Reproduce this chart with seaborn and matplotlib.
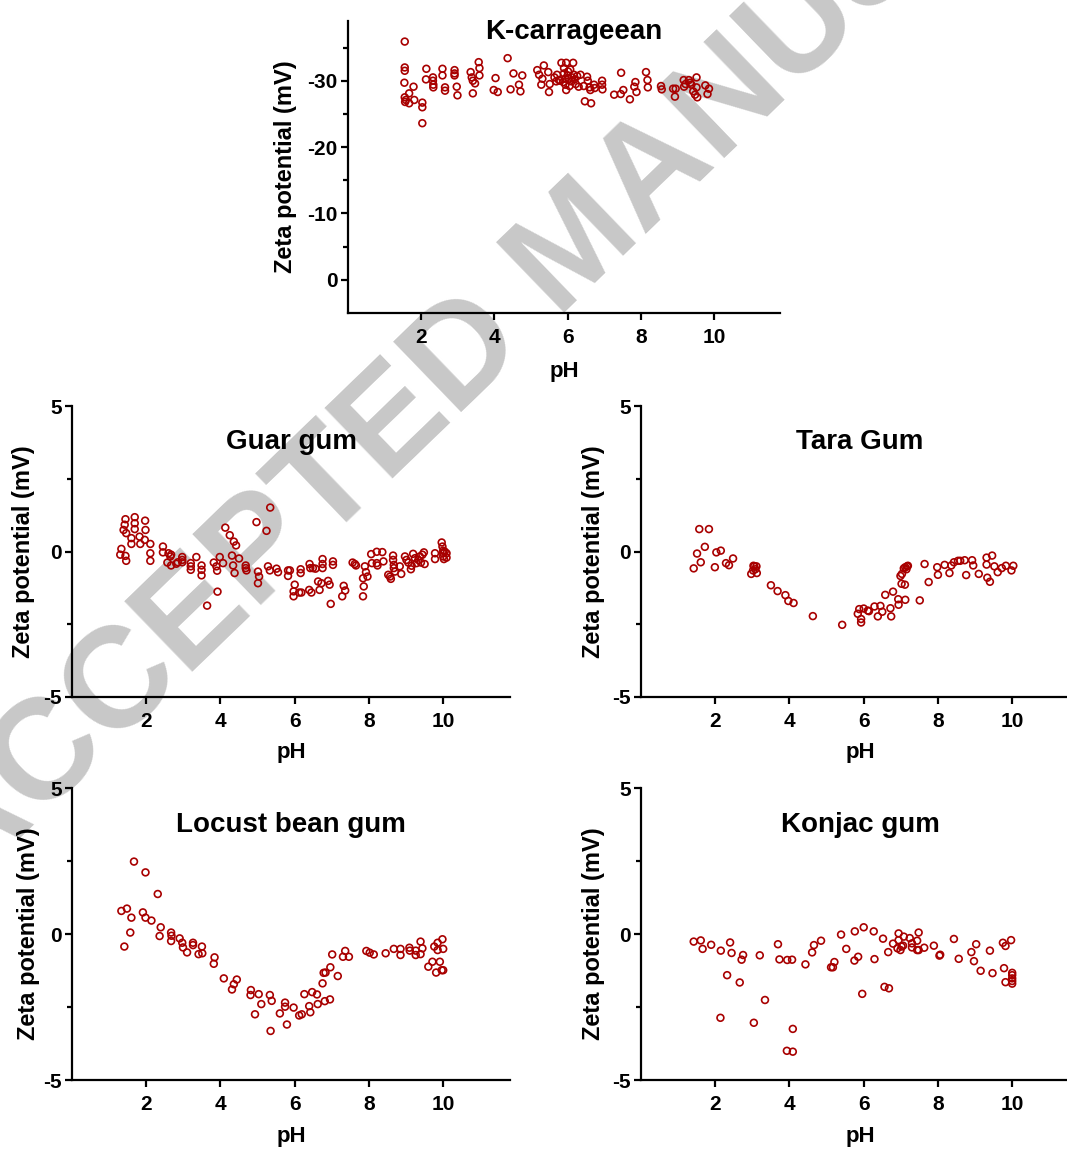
import matplotlib
matplotlib.use("Agg")
import matplotlib.pyplot as plt
import pandas as pd
import seaborn as sns

# ---- data (pH, zeta potential in mV) ----
kc_ph = [1.55, 1.55, 1.55, 1.54, 1.55, 1.58, 1.56, 1.67, 1.67, 1.79, 1.81, 2.03, 2.03, 2.03,
         2.14, 2.13, 2.32, 2.32, 2.33, 2.33, 2.58, 2.58, 2.65, 2.65, 2.91, 2.91, 2.91, 2.97,
         2.99, 3.35, 3.38, 3.41, 3.47, 3.41, 3.57, 3.59, 3.59, 4.03, 3.98, 4.09, 4.36, 4.44,
         4.52, 4.67, 4.71, 4.76, 5.17, 5.22, 5.28, 5.35, 5.31, 5.47, 5.49, 5.51,
         5.64, 5.69, 5.71, 5.76, 5.83, 5.90, 5.90, 5.93, 5.94, 5.96, 5.96, 6.01, 6.03, 6.05,
         6.07, 6.11, 6.15, 6.17, 6.19, 6.26, 6.30, 6.35, 5.80, 6.00, 5.88, 6.12, 6.22,
         6.44, 6.47, 6.53, 6.55, 6.60, 6.62, 6.64, 6.72, 6.74, 6.94, 6.94, 6.95, 7.27, 7.46,
         7.45, 7.52, 7.70, 7.85, 7.82, 7.88, 8.14, 8.18, 8.19, 8.55, 8.57, 8.88, 8.93, 8.95,
         9.17, 9.18, 9.22, 9.31, 9.35, 9.38, 9.43, 9.48, 9.52, 9.52, 9.54, 9.76, 9.82, 9.86]
kc_zeta = [-35.9, -32.0, -31.5, -29.7, -27.5, -27.1, -26.8, -28.1, -26.6, -29.1, -27.1, -26.7,
           -26.0, -23.6, -31.8, -30.2, -30.5, -30.0, -29.4, -29.0, -31.8, -30.8, -29.0, -28.5,
           -31.6, -31.1, -30.8, -29.1, -27.8, -31.3, -30.5, -30.0, -29.6, -28.1, -32.8, -31.9,
           -30.8, -30.4, -28.6, -28.3, -33.4, -28.7, -31.1, -29.4, -28.4, -30.8, -31.6, -30.9,
           -29.4, -32.3, -30.3, -31.3, -28.3, -29.5,
           -30.5, -29.9, -30.9, -30.1, -32.7, -31.9, -31.1, -30.3, -29.4, -32.7, -28.6, -31.4,
           -30.3, -29.2, -31.7, -29.9, -32.7, -30.9, -30.2, -30.7, -29.1, -30.9, -30.0, -30.8,
           -29.8, -30.5, -29.5,
           -29.2, -26.9, -30.6, -30.0, -29.0, -28.6, -26.6, -29.4, -28.9, -30.0, -29.4, -28.7,
           -27.9, -31.2, -28.0, -28.6, -27.2, -29.8, -29.1, -28.3, -31.3, -30.1, -29.0, -29.2,
           -28.7, -28.8, -27.6, -28.8, -30.1, -29.1, -29.5, -30.1, -29.7, -29.4, -28.4, -27.9,
           -30.5, -29.0, -27.5, -29.3, -28.0, -28.8]

guar_ph = [1.33, 1.30, 1.44, 1.46, 1.44, 1.42, 1.39, 1.46, 1.69, 1.69, 1.69, 1.60, 1.60, 1.82,
           1.84, 1.97, 1.98, 1.96, 2.11, 2.11, 2.11, 2.45, 2.45, 2.57, 2.60, 2.65, 2.67, 2.67,
           2.81, 2.85, 2.97, 2.97, 2.97, 3.20, 3.20, 3.20, 3.35, 3.49, 3.49, 3.49, 3.64, 3.82,
           3.89, 3.91, 3.92, 3.98, 4.07, 4.13, 4.25, 4.36, 4.42, 4.31, 4.34, 4.38, 4.50, 4.68,
           4.68, 4.70, 4.97, 5.24, 5.34, 5.01, 5.04, 5.01, 5.28, 5.33, 5.51, 5.55, 5.82, 5.82,
           5.87, 6.00, 5.97, 5.97, 6.12, 6.18, 6.16, 6.16, 6.40, 6.42, 6.49, 6.56, 6.39, 6.45,
           6.63, 6.67, 6.72, 6.75, 6.75, 6.75, 6.90, 6.94, 6.97, 7.03, 7.03, 7.32, 7.36, 7.28,
           7.56, 7.62, 7.65, 7.89, 7.92, 7.96, 7.84, 7.86, 7.84, 8.06, 8.08, 8.21, 8.23, 8.21,
           8.36, 8.39, 8.52, 8.57, 8.59, 8.65, 8.65, 8.67, 8.67, 8.70, 8.83, 8.87, 8.97, 9.01,
           9.06, 9.13, 9.15, 9.19, 9.24, 9.28, 9.33, 9.37, 9.40, 9.44, 9.48, 9.50, 9.78, 9.78,
           9.96, 9.98, 10.00, 10.00, 10.00, 10.02, 10.09, 10.09, 10.04]
guar_zeta = [0.09, -0.11, -0.15, -0.32, 1.11, 0.92, 0.74, 0.63, 1.18, 0.97, 0.77, 0.46, 0.26,
             0.51, 0.26, 1.06, 0.74, 0.40, 0.26, -0.06, -0.32, 0.17, -0.03, -0.38, -0.06,
             -0.17, -0.11, -0.48, -0.42, -0.37, -0.19, -0.29, -0.37, -0.40, -0.51, -0.63,
             -0.19, -0.48, -0.63, -0.82, -1.86, -0.38, -0.51, -0.66, -1.38, -0.19, -0.40, 0.82,
             0.56, 0.34, 0.21, -0.14, -0.48, -0.74, -0.24, -0.48, -0.57, -0.65, 1.01, 0.71,
             1.51, -0.69, -0.86, -1.09, -0.51, -0.65, -0.59, -0.71, -0.65, -0.84, -0.65, -1.14,
             -1.37, -1.54, -1.41, -1.41, -0.61, -0.74, -0.43, -0.57, -0.57, -0.59, -1.32, -1.41,
             -1.03, -1.32, -1.09, -0.26, -0.43, -0.57, -1.01, -1.14, -1.80, -0.34, -0.46, -1.18,
             -1.34, -1.54, -0.38, -0.43, -0.48, -0.51, -0.71, -0.86, -0.92, -1.20, -1.54, -0.09,
             -0.40, -0.40, -0.48, -0.01, -0.02, -0.34, -0.80, -0.86, -0.94, -0.14, -0.29, -0.46,
             -0.57, -0.69, -0.51, -0.77, -0.17, -0.29, -0.38, -0.61, -0.49, -0.08, -0.23, -0.40,
             -0.29, -0.17, -0.38, -0.11, -0.03, -0.43, -0.06, -0.26, 0.31, 0.17, 0.03, -0.06,
             -0.17, -0.26, -0.06, -0.21, 0.00]

tara_ph = [1.42, 1.51, 1.57, 1.61, 1.72, 1.83, 1.99, 2.03, 2.15, 2.29, 2.37, 2.48, 2.97, 3.02,
           3.05, 3.08, 3.11, 3.12, 3.03, 3.50, 3.68, 3.89, 3.97, 4.11, 4.63, 5.42, 5.84, 5.88,
           5.93, 5.93, 6.00, 6.11, 6.14, 6.29, 6.38, 6.45, 6.50, 6.58, 6.72, 6.74, 6.79, 6.93,
           6.94, 6.99, 7.03, 7.02, 7.11, 7.12, 7.08, 7.12, 7.17, 7.19, 7.15, 7.51, 7.64, 7.75,
           7.98, 8.00, 8.18, 8.31, 8.36, 8.43, 8.54, 8.60, 8.72, 8.76, 8.92, 8.95, 9.10, 9.31,
           9.46, 9.31, 9.33, 9.40, 9.52, 9.61, 9.72, 9.83, 9.98, 10.03]
tara_zeta = [-0.58, -0.07, 0.77, -0.37, 0.16, 0.77, -0.54, -0.03, 0.03, -0.40, -0.47, -0.24,
             -0.77, -0.65, -0.51, -0.61, -0.51, -0.74, -0.49, -1.16, -1.36, -1.50, -1.70,
             -1.77, -2.22, -2.52, -2.14, -1.98, -2.32, -2.44, -1.96, -2.03, -2.05, -1.89, -2.23,
             -1.87, -2.07, -1.49, -1.95, -2.23, -1.38, -1.64, -1.83, -0.84, -0.77, -1.11, -1.14,
             -1.66, -0.58, -0.54, -0.51, -0.49, -0.61, -1.68, -0.43, -1.05, -0.54, -0.80, -0.46,
             -0.74, -0.48, -0.37, -0.32, -0.32, -0.30, -0.81, -0.30, -0.48, -0.77, -0.21, -0.14,
             -0.45, -0.90, -1.04, -0.51, -0.71, -0.57, -0.49, -0.65, -0.49]

lbg_ph = [1.33, 1.41, 1.48, 1.57, 1.60, 1.67, 1.91, 1.98, 1.98, 2.14, 2.31, 2.36, 2.39, 2.67,
          2.68, 2.67, 2.90, 2.97, 2.99, 3.10, 3.26, 3.26, 3.41, 3.50, 3.51, 3.84, 3.82, 4.09,
          4.31, 4.36, 4.44, 4.82, 4.81, 4.93, 5.03, 5.10, 5.33, 5.38, 5.35, 5.60, 5.74, 5.74,
          5.79, 5.97, 6.12, 6.19, 6.26, 6.39, 6.42, 6.47, 6.60, 6.62, 6.75, 6.78, 6.83, 6.81,
          6.95, 6.96, 7.01, 7.16, 7.30, 7.36, 7.46, 7.93, 8.02, 8.13, 8.45, 8.67, 8.85, 8.85,
          9.09, 9.10, 9.26, 9.26, 9.39, 9.39, 9.44, 9.60, 9.71, 9.76, 9.81, 9.85, 9.85, 9.91,
          9.96, 10.00, 9.98, 10.00]
lbg_zeta = [0.79, -0.43, 0.87, 0.05, 0.56, 2.48, 0.74, 2.11, 0.56, 0.46, 1.37, -0.07, 0.23,
            0.05, -0.06, -0.24, -0.15, -0.30, -0.46, -0.63, -0.30, -0.38, -0.69, -0.43, -0.66,
            -0.80, -1.02, -1.52, -1.90, -1.72, -1.56, -1.92, -2.09, -2.75, -2.06, -2.40, -2.09,
            -2.29, -3.32, -2.72, -2.35, -2.49, -3.10, -2.52, -2.79, -2.75, -2.06, -2.47, -2.68,
            -1.99, -2.07, -2.40, -1.69, -1.33, -1.32, -2.30, -2.24, -1.14, -0.70, -1.44, -0.78,
            -0.58, -0.78, -0.58, -0.64, -0.70, -0.66, -0.51, -0.51, -0.72, -0.47, -0.57, -0.57,
            -0.72, -0.26, -0.69, -0.49, -1.12, -0.95, -0.43, -1.32, -0.30, -0.55, -0.95, -1.24,
            -1.24, -0.18, -0.51]

konjac_ph = [1.42, 1.61, 1.66, 1.89, 2.15, 2.14, 2.32, 2.40, 2.44, 2.66, 2.71, 2.75, 3.04, 3.20,
             3.34, 3.69, 3.73, 3.94, 4.07, 3.93, 4.09, 4.09, 4.43, 4.61, 4.66, 4.85, 5.12, 5.17,
             5.21, 5.39, 5.53, 5.75, 5.85, 5.76, 5.96, 6.00, 6.27, 6.29, 6.52, 6.56, 6.68, 6.66,
             6.79, 6.94, 6.94, 6.91, 6.99, 7.02, 7.06, 7.08, 7.24, 7.30, 7.30, 7.44, 7.44, 7.48,
             7.48, 7.63, 7.89, 8.04, 8.06, 8.43, 8.56, 8.90, 8.97, 9.03, 9.15, 9.40, 9.47, 9.75,
             9.78, 9.82, 9.82, 9.97, 10.00, 10.00, 10.00, 10.00, 10.00]
konjac_zeta = [-0.26, -0.22, -0.51, -0.37, -0.57, -2.87, -1.41, -0.29, -0.65, -1.66, -0.88,
               -0.72, -3.04, -0.73, -2.26, -0.35, -0.87, -0.89, -0.88, -4.00, -4.03, -3.25,
               -1.04, -0.63, -0.38, -0.23, -1.14, -1.14, -0.96, -0.02, -0.51, -0.91, -0.78,
               0.09, -2.05, 0.23, 0.09, -0.86, -0.16, -1.81, -1.86, -0.62, -0.33, 0.02, -0.21,
               -0.49, -0.55, -0.43, -0.40, -0.09, -0.14, -0.32, -0.46, -0.23, -0.55, -0.55,
               0.05, -0.47, -0.40, -0.74, -0.71, -0.17, -0.85, -0.62, -0.93, -0.35, -1.26,
               -0.57, -1.34, -0.30, -1.17, -0.41, -1.65, -0.21, -1.33, -1.41, -1.52, -1.61, -1.70]

titles = ["K-carrageean", "Guar gum", "Tara Gum", "Locust bean gum", "Konjac gum"]
x_ticks = [2, 4, 6, 8, 10]

MARKER = "#A80000"
FONT = ["Liberation Sans", "DejaVu Sans"]


def style_axis(ax, ylim, yticks, yminor, ylab_x, xlab_y):
    ax.set_xlim(0, 11.8)
    ax.set_ylim(*ylim)
    ax.set_xticks(x_ticks)
    ax.set_yticks(yticks)
    ax.set_yticks(yminor, minor=True)
    ax.set_facecolor("none")
    for side in ("top", "right"):
        ax.spines[side].set_visible(False)
    for side in ("left", "bottom"):
        ax.spines[side].set_linewidth(1.6)
        ax.spines[side].set_color("black")
    ax.tick_params(axis="both", which="major", length=5, width=1.6, color="black",
                   labelsize=15, labelcolor="black")
    ax.tick_params(axis="x", pad=6)
    ax.tick_params(axis="y", pad=2.5)
    ax.tick_params(axis="y", which="minor", length=3.5, width=1.6, color="black")
    for lab in ax.get_xticklabels() + ax.get_yticklabels():
        lab.set_fontweight("bold")
    ax.set_xlabel("pH", fontsize=16, fontweight="bold", color="black")
    ax.set_ylabel("Zeta potential (mV)", fontsize=17, fontweight="bold", color="black")
    ax.yaxis.set_label_coords(ylab_x, 0.5)
    ax.xaxis.set_label_coords(0.5, xlab_y)
    ax.grid(False)


def main() -> None:
    sns.set_theme(style="ticks")
    plt.rcParams["font.family"] = FONT
    plt.rcParams["axes.unicode_minus"] = False
    plt.rcParams["text.color"] = "black"

    fig = plt.figure(figsize=(10.67, 11.51), dpi=100)
    W, H = 1067, 1151

    def place(left, top, width, height):
        return fig.add_axes([left / W, 1 - (top + height) / H, width / W, height / H])

    # diagonal watermark behind the panels
    fig.text(578 / W, 1 - 248 / H, "ACCEPTED MANUSCRIPT", rotation=44, rotation_mode="anchor",
             ha="center", va="center", fontsize=103, fontweight="bold", color="#c8c8c8",
             zorder=-10)

    panels = [
        (kc_ph, kc_zeta, (348, 21, 432, 292), (5, -39), [0, -10, -20, -30],
         [-5, -15, -25, -35], (0.523, 0.94), -0.118, -0.165),
        (guar_ph, guar_zeta, (72, 406, 438, 291), (-5, 5), [-5, 0, 5],
         [-2.5, 2.5], (0.5, 0.851), -0.085, -0.156),
        (tara_ph, tara_zeta, (641, 406, 438, 291), (-5, 5), [-5, 0, 5],
         [-2.5, 2.5], (0.5, 0.851), -0.082, -0.156),
        (lbg_ph, lbg_zeta, (72, 788, 438, 292), (-5, 5), [-5, 0, 5],
         [-2.5, 2.5], (0.5, 0.85), -0.073, -0.158),
        (konjac_ph, konjac_zeta, (641, 788, 438, 292), (-5, 5), [-5, 0, 5],
         [-2.5, 2.5], (0.5, 0.85), -0.082, -0.158),
    ]

    for (ph, zeta, box, ylim, yt, ym, tpos, ylx, xly), title in zip(panels, titles):
        ax = place(*box)
        df = pd.DataFrame({"pH": ph, "zeta": zeta})
        sns.scatterplot(data=df, x="pH", y="zeta", ax=ax, marker="o", s=24,
                        facecolors="none", edgecolors=MARKER, linewidth=1.2,
                        clip_on=False, zorder=3)
        style_axis(ax, ylim, yt, ym, ylx, xly)
        ax.text(tpos[0], tpos[1], title, transform=ax.transAxes, ha="center",
                va="baseline", fontsize=20, fontweight="bold", color="black")

    fig.savefig("out.png", dpi=100)
    plt.close(fig)


if __name__ == "__main__":
    main()
